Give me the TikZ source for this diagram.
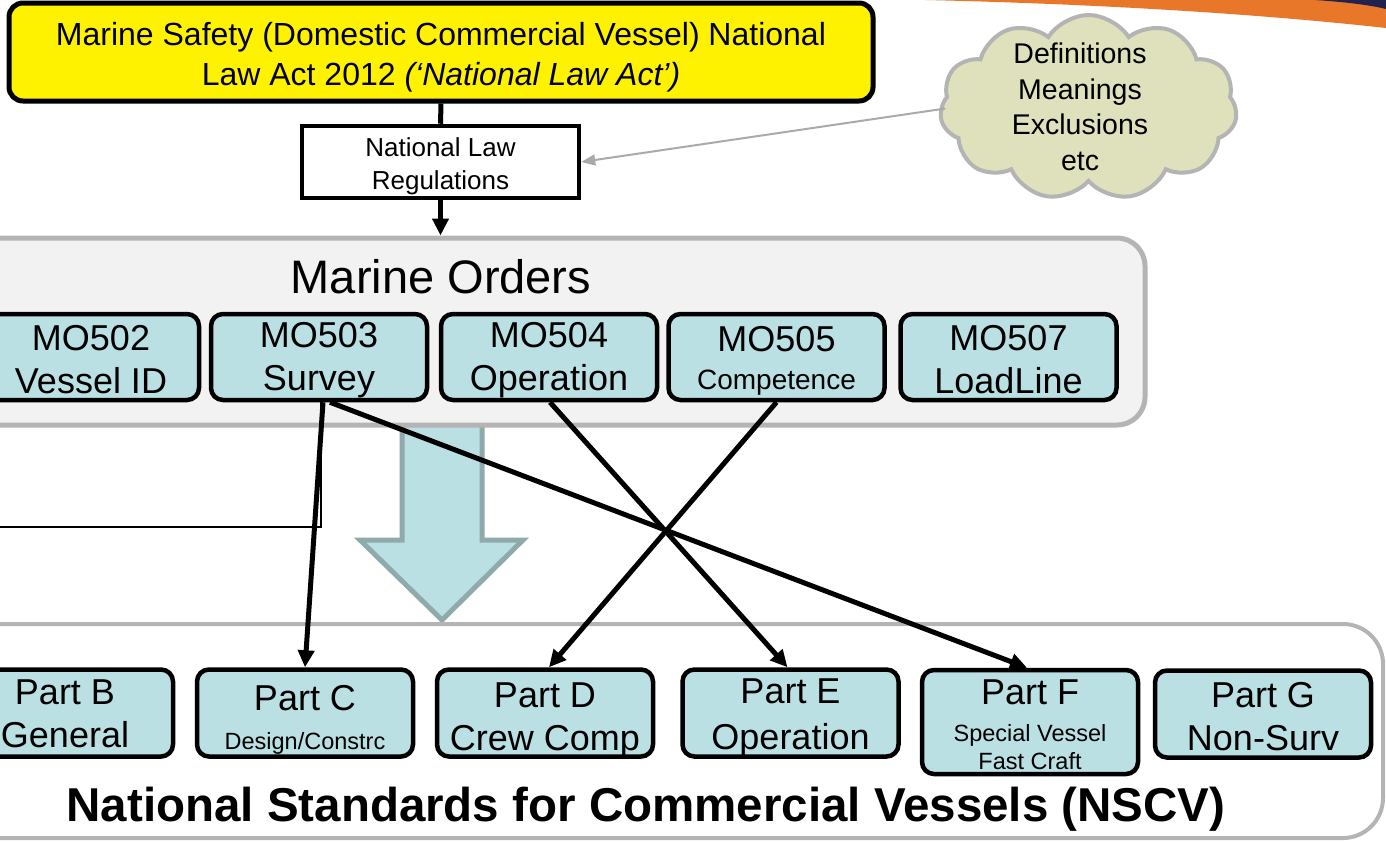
\documentclass[tikz,border=0pt]{standalone}
\usepackage{fontspec}
\setmainfont{Liberation Sans}
\usetikzlibrary{arrows.meta,shapes.symbols,calc}

\definecolor{boxteal}{HTML}{BAE0E3}
\definecolor{framegray}{HTML}{B4B4B4}
\definecolor{framefill}{HTML}{F2F2F2}
\definecolor{cloudfill}{HTML}{DEE1BC}
\definecolor{bigarrowedge}{HTML}{8FAAAB}
\definecolor{swooshorange}{HTML}{E8772A}
\definecolor{swooshnavy}{HTML}{22224F}
\definecolor{pointergray}{HTML}{AAAAAA}

\newcommand{\setfs}[2]{\fontsize{#1}{#2}\selectfont}

\tikzset{
  actbox/.style={draw=black, line width=5pt, fill=yellow, rounded corners=14pt,
    minimum width=864pt, minimum height=98pt, inner sep=0pt},
  regbox/.style={draw=black, line width=4.5pt, fill=white,
    minimum width=277pt, minimum height=72pt, inner sep=0pt},
  tealbox/.style={draw=black, line width=4.5pt, fill=boxteal, rounded corners=12pt,
    minimum width=216pt, minimum height=86pt, inner sep=0pt},
  partbox/.style={tealbox, minimum height=87pt},
  boxtext/.style={align=center, inner sep=0pt, font=\setfs{36}{43}},
  groupframe/.style={draw=framegray, line width=5pt, inner sep=0pt},
  link/.style={line width=5pt, draw=black},
  linkarrow/.style={link, -{Triangle[length=17pt,width=16pt]}},
  pointer/.style={draw=pointergray, line width=2pt, -{Triangle[length=14pt,width=11pt]}},
}

\begin{document}
\begin{tikzpicture}[x=1pt,y=-1pt]
\useasboundingbox (0,0) rectangle (1386,841);
\clip (0,0) rectangle (1386,841);

% header swoosh in the corner
\fill[swooshorange] (925,0) .. controls (1100,4) and (1260,14) .. (1386,28) -- (1386,0) -- cycle;
\fill[swooshnavy] (1315,0) .. controls (1345,2) and (1370,5) .. (1386,9) -- (1386,0) -- cycle;

% broad downward arrow between the two groups
\filldraw[fill=boxteal, draw=bigarrowedge, line width=5pt, line join=miter]
  (402,410) -- (482,410) -- (482,540) -- (523,540) -- (442,620) -- (360,540) -- (402,540) -- cycle;

% group frames
\node[groupframe, fill=framefill, rounded corners=28pt,
      minimum width=1185pt, minimum height=187pt] (moframe) at (552.5,331.5) {};
\node[groupframe, fill=white, rounded corners=40pt, line width=4pt,
      minimum width=1423pt, minimum height=214pt] (nscvframe) at (671.5,731) {};

% act and regulations
\node[actbox] (act) at (441,52) {};
\node[boxtext, font=\setfs{32}{40}] (acttext) at (441,57)
  {Marine Safety (Domestic Commercial Vessel) National\\
   Law Act 2012 \textit{(‘National Law Act’)}};
\node[regbox] (regs) at (440.5,162) {};
\node[boxtext, font=\setfs{26}{33}] (regstext) at (440.5,166) {National Law\\Regulations};

% definitions cloud
\node[cloud, cloud puffs=11, cloud puff arc=115, draw=framegray, line width=4pt,
      fill=cloudfill, minimum width=297pt, minimum height=185pt, inner sep=0pt]
      (cloud) at (1088.5,107.5) {};
\node[align=center, font=\setfs{28.5}{35.5}] (cloudtext) at (1080,107)
  {Definitions\\Meanings\\Exclusions\\etc};

% marine orders
\node[font=\setfs{47}{56}] (motitle) at (441,277) {Marine Orders};
\node[tealbox] (mo502) at (91,357)    {};
\node[tealbox] (mo503) at (319,357)   {};
\node[tealbox] (mo504) at (549,357)   {};
\node[tealbox] (mo505) at (776.5,357) {};
\node[tealbox] (mo507) at (1008.5,357){};
\node[boxtext] (mo502t) at (91,360)    {MO502\\Vessel ID};
\node[boxtext] (mo503t) at (319,360)   {MO503\\Survey};
\node[boxtext] (mo504t) at (549,360)   {MO504\\Operation};
\node[boxtext] (mo505t) at (776.5,361) {MO505\\[-5pt]\setfs{28}{31}Competence};
\node[boxtext] (mo507t) at (1008.5,360){MO507\\LoadLine};

% national standards parts
\node[partbox] (partb) at (65,713)  {};
\node[partbox] (partc) at (305,713) {};
\node[partbox] (partd) at (545,713) {};
\node[partbox] (parte) at (790.5,713) {};
\node[partbox, minimum height=104pt] (partf) at (1030,722) {};
\node[partbox] (partg) at (1263,714) {};
\node[boxtext] (partbt) at (65,714)  {Part B\\General};
\node[boxtext] (partct) at (305,720) {Part C\\[-4pt]\setfs{23.5}{28}Design/Constrc};
\node[boxtext] (partdt) at (545,720) {Part D\\Crew Comp};
\node[boxtext] (partet) at (790.5,718) {Part E\\[3pt]Operation};
\node[boxtext] (partft) at (1030,725)
  {Part F\\[-6pt]\setfs{23.5}{28}Special Vessel\\[-15pt]\setfs{23.5}{28}Fast Craft};
\node[boxtext] (partgt) at (1263,717) {Part G\\Non-Surv};
\node[font=\bfseries\setfs{47.5}{56}] (nscvtitle) at (646,809)
  {National Standards for Commercial Vessels (NSCV)};

% connectors
\draw[link] (act.south) -- (regs.north);
\draw[linkarrow] (regs.south) -- (regs.south |- moframe.north);
\draw[pointer] ($(cloud.west)+(6,1)$) -- (regs.east);

\coordinate (leftend) at (-5,527);
\coordinate (elbow) at (321,527);
\draw[line width=1.5pt] (leftend) -- (elbow) -- (elbow |- mo503.south);

\draw[linkarrow] ($(mo503.south)+(4,0)$) -- (partc.north);
\draw[linkarrow] ($(mo503.south)+(11,0)$) -- ($(partf.north)+(-3,0)$);
\draw[linkarrow] ($(mo504.south)+(1,0)$) -- ($(parte.north)+(-3,0)$);
\draw[linkarrow] (mo505.south) -- ($(partd.north)+(4,0)$);
\end{tikzpicture}
\end{document}
